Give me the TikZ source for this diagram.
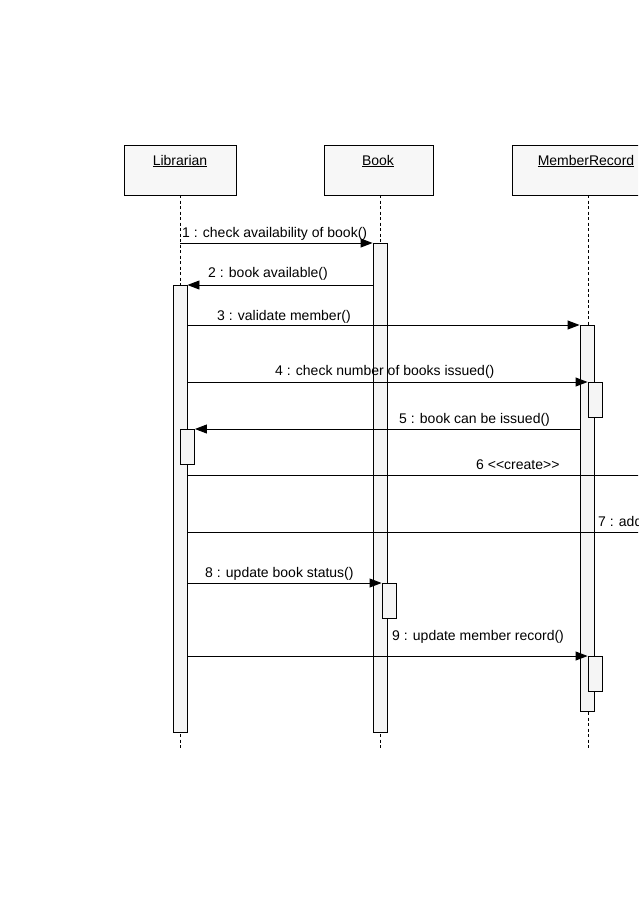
\documentclass[tikz,border=0pt]{standalone}
\usepackage{fontspec}
\setmainfont{Liberation Sans}
\usetikzlibrary{arrows.meta}
\tikzset{
  hdr/.style={draw, line width=0.9pt, fill=black!3, minimum height=50pt, inner sep=0pt},
  bar/.style={draw, line width=0.9pt, fill=black!4, minimum width=14pt, inner sep=0pt, anchor=north},
  life/.style={line width=1pt, dash pattern=on 3pt off 2.5pt},
  msg/.style={line width=0.9pt, -{Triangle[length=12pt,width=9pt]}},
  lbl/.style={anchor=base west, inner sep=0pt, font=\fontsize{14}{16}\selectfont},
}

\begin{document}
\begin{tikzpicture}[x=1pt,y=-1pt]
	%%%%% START %%%%%
	\useasboundingbox (0,0) rectangle (638,903);
	\clip (0,0) rectangle (638,903);
	
	% objects
	\node[hdr, minimum width=112pt] (lib) at (180,170) {};
	\node[lbl, anchor=base] (libT) at (180,165) {\underline{Librarian}};
	\node[hdr, minimum width=109pt] (book) at (379,170) {};
	\node[lbl, anchor=base] (bookT) at (378,165) {\underline{Book}};
	\node[hdr, minimum width=152pt] (mem) at (588,170) {};
	\node[lbl, anchor=base] (memT) at (586,165) {\underline{MemberRecord}};
	
	% lifelines
	\draw[life] (180,195) -- (180,750);
	\draw[life] (380,195) -- (380,750);
	\draw[life] (588,195) -- (588,750);
	
	% activations
	\node[bar, minimum height=447pt] (libA) at (180,285) {};
	\node[bar, minimum height=489pt] (bookA) at (380,243) {};
	\node[bar, minimum height=386pt] (memA) at (587,325) {};
	\node[bar, minimum height=35pt] (libN) at (187.5,429) {};
	\node[bar, minimum height=35pt] (bookN) at (389,583) {};
	\node[bar, minimum height=35pt] (memN1) at (595,382) {};
	\node[bar, minimum height=35pt] (memN2) at (595,656) {};
	
	\coordinate (end6) at (660,475);
	\coordinate (end7) at (660,532);
	
	% messages
	\draw[msg] (lib.south |- bookA.north) -- (bookA.north west);
	\draw[msg] (bookA.west |- libA.north) -- (libA.north east);
	\draw[msg] (libA.east |- memA.north) -- (memA.north west);
	\draw[msg] (libA.east |- memN1.north) -- (memN1.north west);
	\draw[msg] (memA.west |- libN.north) -- (libN.north east);
	\draw[line width=0.9pt] (libA.east |- end6) -- (end6);
	\draw[line width=0.9pt] (libA.east |- end7) -- (end7);
	\draw[msg] (libA.east |- bookN.north) -- (bookN.north west);
	\draw[msg] (libA.east |- memN2.north) -- (memN2.north west);
	
	% labels
	\node[lbl] (t1) at (182,237) {1 : check availability of book()};
	\node[lbl] (t2) at (208,277) {2 : book available()};
	\node[lbl] (t3) at (217,320) {3 : validate member()};
	\node[lbl] (t4) at (275,375) {4 : check number of books issued()};
	\node[lbl] (t5) at (399,423) {5 : book can be issued()};
	\node[lbl] (t6) at (476,469) {6 {<}{<}create{>}{>}};
	\node[lbl] (t7) at (598,526) {7 : add};
	\node[lbl] (t8) at (205,577) {8 : update book status()};
	\node[lbl] (t9) at (392,640) {9 : update member record()};
	%%%%% END %%%%%
\end{tikzpicture}
\end{document}
